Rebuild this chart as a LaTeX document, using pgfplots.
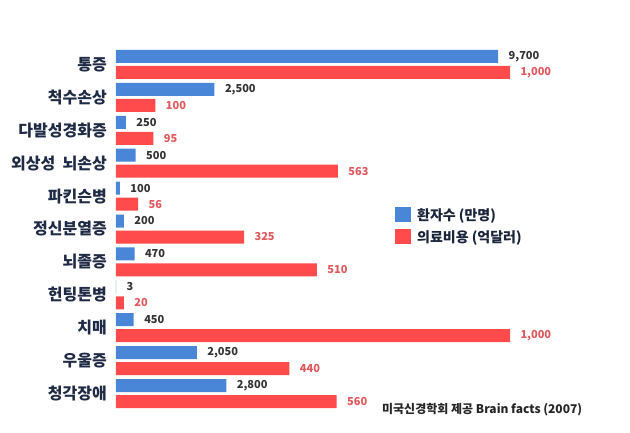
\documentclass[border=0pt]{standalone}
\usepackage{pgfplots}
\pgfplotsset{compat=1.18}
\usepackage{fontspec}
\setmainfont{Noto Sans CJK KR}
\definecolor{cblue}{HTML}{4A86D8}
\definecolor{cred}{HTML}{FF4B4B}
\definecolor{clab}{HTML}{1F2A44}
\definecolor{cnum}{HTML}{333333}
\definecolor{cnumr}{HTML}{E0585C}
\begin{document}
\begin{tikzpicture}[x=1pt,y=1pt]
\useasboundingbox (0,0) rectangle (630,-433);
\begin{axis}[
  at={(116pt,-48pt)}, anchor=north west,
  scale only axis, width=394pt, height=362pt,
  xbar, bar width=13pt,
  xmin=0, xmax=1000, ymin=-0.5, ymax=10.5,
  y dir=reverse,
  axis line style={draw=none},
  major tick length=0pt,
  xtick=\empty,
  ytick={0,1,2,3,4,5,6,7,8,9,10},
  yticklabels={통증,척수손상,다발성경화증,외상성\ \ 뇌손상,파킨슨병,정신분열증,뇌졸증,헌팅톤병,치매,우울증,청각장애},
  yticklabel style={font=\fontsize{16}{17}\selectfont\bfseries, text=clab, inner sep=0pt, xshift=-9pt},
  clip=false,
  nodes near coords,
  /pgf/number format/.cd, fixed, precision=0, 1000 sep={,}, assume math mode=true,
  /pgfplots/.cd,
  legend cell align=left,
  legend image code/.code={\fill[#1,draw=none] (0pt,-7.5pt) rectangle (16pt,7.5pt);},
  legend style={at={(0.708,0.56)}, anchor=north west, draw=none, fill=none,
    font=\fontsize{14}{15}\selectfont\bfseries, text=clab!85!black, row sep=7pt, column sep=6pt, inner sep=0pt,
    nodes={inner sep=0pt}},
]
\addplot[fill=cblue, draw=none, bar shift=8pt, point meta=explicit,
  nodes near coords style={font=\fontsize{11}{12}\selectfont\bfseries, text=cnum, anchor=west, xshift=7pt}]
  coordinates {(970,0) [9700] (250,1) [2500] (25,2) [250] (50,3) [500] (10,4) [100]
    (20,5) [200] (47,6) [470] (0.3,7) [3] (45,8) [450] (205,9) [2050] (280,10) [2800]};
\addlegendentry{환자수 (만명)}
\addplot[fill=cred, draw=none, bar shift=-8pt, point meta=x,
  nodes near coords style={font=\fontsize{11}{12}\selectfont\bfseries, text=cnumr, anchor=west, xshift=7pt}]
  coordinates {(1000,0) (100,1) (95,2) (563,3) (56,4) (325,5) (510,6) (20,7) (1000,8) (440,9) (560,10)};
\addlegendentry{의료비용 (억달러)}
\node[anchor=west, font=\fontsize{12}{13}\selectfont\bfseries, text=black!85, inner sep=0pt]
  at (rel axis cs:0.675,0) {미국신경학회 제공 Brain facts (2007)};
\end{axis}
\end{tikzpicture}
\end{document}
